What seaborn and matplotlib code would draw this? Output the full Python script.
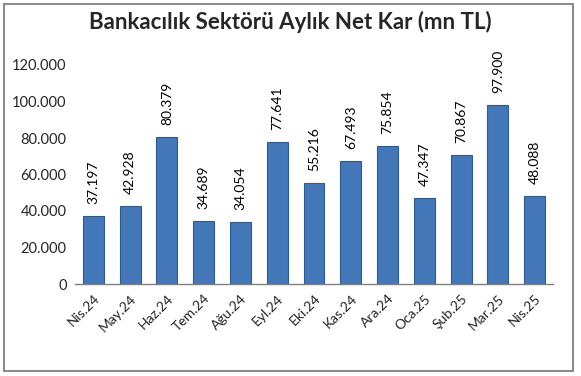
import matplotlib
matplotlib.use("Agg")
import matplotlib.pyplot as plt
import seaborn as sns
import pandas as pd
from matplotlib.patches import Rectangle

# Veriler
months = ["Nis.24", "May.24", "Haz.24", "Tem.24", "Ağu.24", "Eyl.24", "Eki.24",
          "Kas.24", "Ara.24", "Oca.25", "Şub.25", "Mar.25", "Nis.25"]
net_kar = [37197, 42928, 80379, 34689, 34054, 77641, 55216,
           67493, 75854, 47347, 70867, 97900, 48088]
y_ticks = [0, 20000, 40000, 60000, 80000, 100000, 120000]

df = pd.DataFrame({"ay": months, "kar": net_kar})

sns.set_style("white")
plt.rcParams["font.family"] = ["Lato", "DejaVu Sans"]

fig = plt.figure(figsize=(5.81, 3.76), dpi=100)
ax = fig.add_axes([75 / 581, 1 - 284 / 376, 478 / 581, 219 / 376])

sns.barplot(data=df, x="ay", y="kar", color="#4377B8", width=0.57,
            edgecolor="#2E5A8C", linewidth=0.8, saturation=1, ax=ax)

for i, v in enumerate(net_kar):
    ax.text(i, v + 6500, f"{v:,}".replace(",", "."), rotation=90,
            ha="center", va="bottom", fontsize=10, color="black")

ax.set_ylim(0, 120000)
ax.set_xlim(-0.5, len(months) - 0.5)
ax.set_yticks(y_ticks)
ax.set_yticklabels([f"{t:,}".replace(",", ".") for t in y_ticks], fontsize=10.5)
ax.set_xticks(range(len(months)))
ax.set_xticklabels(months, rotation=45, ha="right", rotation_mode="anchor", fontsize=10)
ax.tick_params(axis="both", length=0, pad=6)
ax.set_xlabel("")
ax.set_ylabel("")
for s in ["left", "top", "right"]:
    ax.spines[s].set_visible(False)
ax.spines["bottom"].set_color("#7F7F7F")
ax.spines["bottom"].set_linewidth(1)

fig.text(290 / 581, 1 - 22 / 376, "Bankacılık Sektörü Aylık Net Kar (mn TL)",
         ha="center", va="center", fontsize=16, fontweight="bold")

# Grafik çerçevesi
fig.patches.append(Rectangle((4 / 581, 5 / 376), 569 / 581, 367 / 376,
                             transform=fig.transFigure, fill=False,
                             edgecolor="#8C8C8C", linewidth=1.5))

fig.savefig("out.png", dpi=100)
